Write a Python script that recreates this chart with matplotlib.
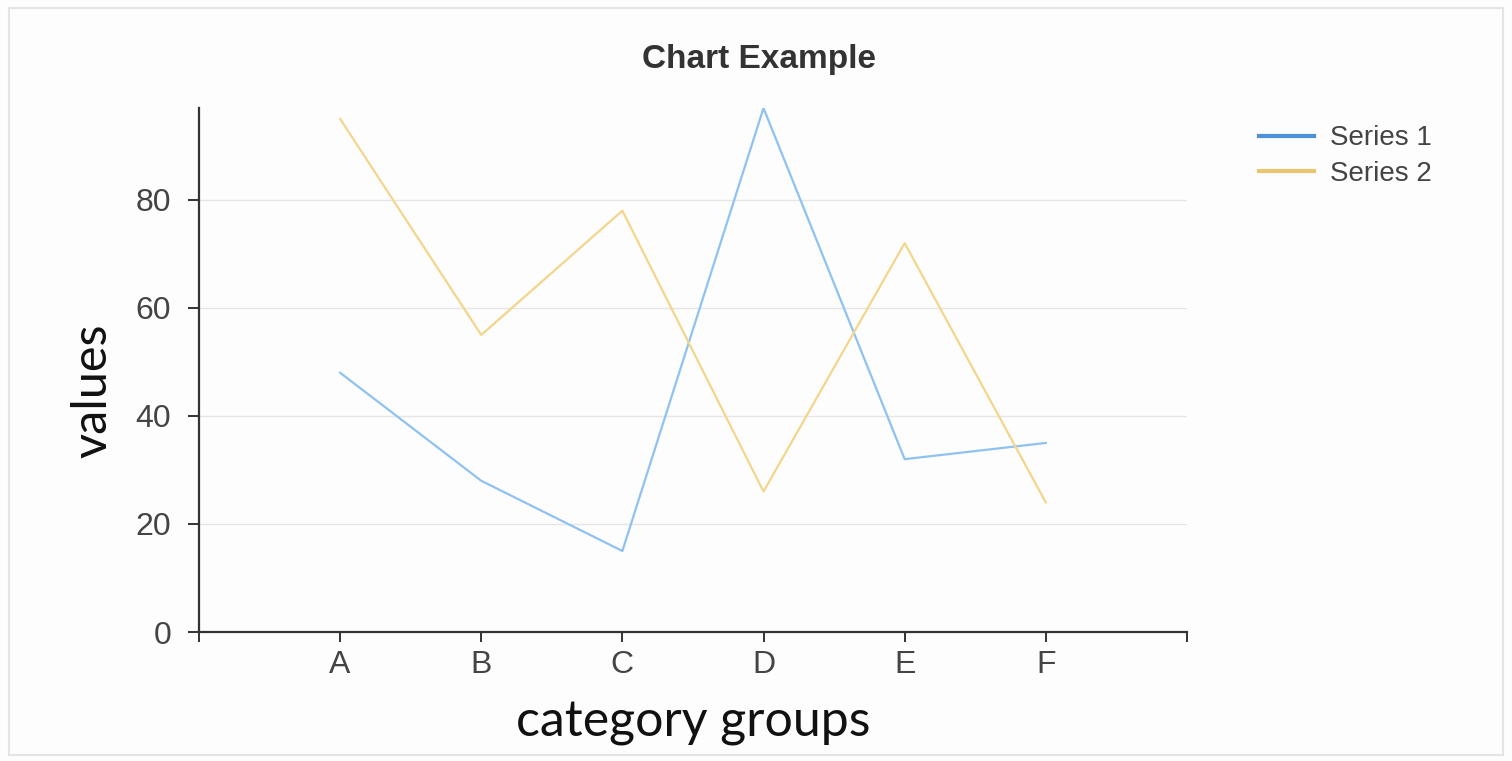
import matplotlib.pyplot as plt
from matplotlib.patches import Rectangle

categories = ['A', 'B', 'C', 'D', 'E', 'F']
series1 = [48, 28, 15, 97, 32, 35]
series2 = [95, 55, 78, 26, 72, 24]
yticks = [0, 20, 40, 60, 80]

fig = plt.figure(figsize=(15.12, 7.61), dpi=100)
fig.patch.set_facecolor('#fdfdfd')
fig.patches.append(Rectangle((0.006, 0.008), 0.988, 0.982, transform=fig.transFigure,
                             fill=False, edgecolor='#e4e4e4', linewidth=1.5))

ax = fig.add_axes([0.1316, 0.1695, 0.6534, 0.6885])
ax.set_facecolor('none')

x = list(range(len(categories)))
ax.plot(x, series1, color='#8fc2f0', linewidth=1.6, label='Series 1')
ax.plot(x, series2, color='#f3d68c', linewidth=1.6, label='Series 2')

ax.set_xlim(-1, 6)
ax.set_ylim(0, 97)
ax.set_xticks(x)
ax.set_xticklabels(categories)
ax.set_xticks([-1, 6], minor=True)
ax.set_yticks(yticks)
ax.grid(axis='y', color='#e6e6e6', linewidth=1)
ax.set_axisbelow(True)

for s in ['top', 'right']:
    ax.spines[s].set_visible(False)
for s in ['left', 'bottom']:
    ax.spines[s].set_color('#333333')
    ax.spines[s].set_linewidth(1.6)

ax.tick_params(axis='both', which='both', direction='out', color='#333333',
               width=1.4, labelsize=23, labelcolor='#444444')
ax.tick_params(axis='y', length=8, pad=12)
ax.tick_params(axis='x', which='both', length=7, pad=6)
for lab in ax.get_xticklabels() + ax.get_yticklabels():
    lab.set_family('Liberation Sans')

ax.set_xlabel('category groups', fontsize=36, family='Lato', labelpad=14, color='#111111')
ax.set_ylabel('values', fontsize=35, family='Lato', color='#111111')
ax.yaxis.set_label_coords(-0.086, 0.46)

fig.text(0.502, 0.922, 'Chart Example', ha='center', va='center', fontsize=24,
         family='Liberation Sans', fontweight='bold', color='#333333')

leg_h = [plt.Line2D([0], [0], color='#4a92dc', linewidth=3),
         plt.Line2D([0], [0], color='#e8c56e', linewidth=3)]
fig.legend(leg_h, ['Series 1', 'Series 2'], loc='upper left',
           bbox_to_anchor=(0.816, 0.868), frameon=False,
           handlelength=2.0, handletextpad=0.55, labelspacing=0.35,
           prop={'family': 'Liberation Sans', 'size': 20}, labelcolor='#444444')

fig.savefig('out.png', dpi=100, facecolor=fig.get_facecolor())
